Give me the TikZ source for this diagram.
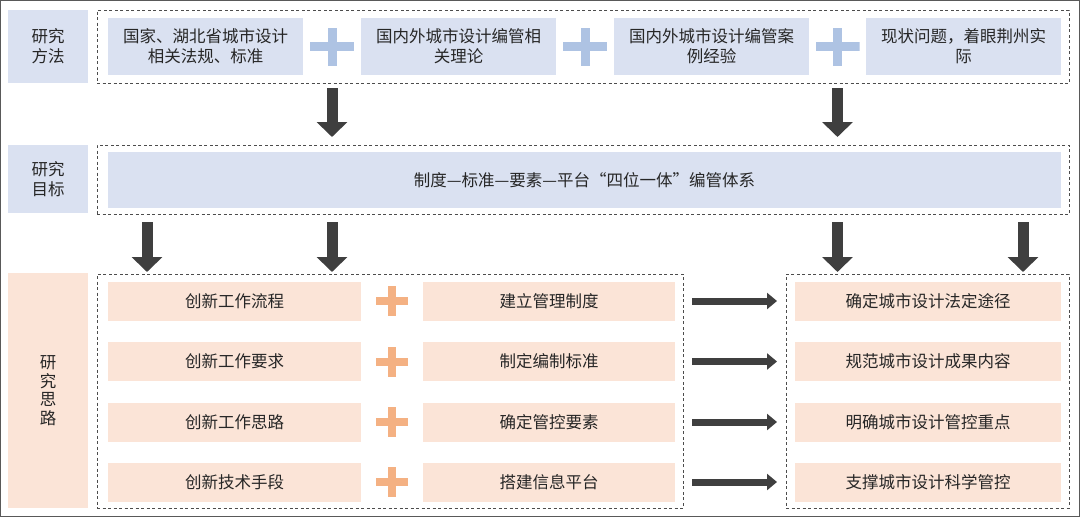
\documentclass[tikz,border=0pt]{standalone}
\usepackage{fontspec}
\newfontfamily\cjk{Noto Sans CJK SC}
\usetikzlibrary{arrows.meta}
\definecolor{boxblue}{HTML}{DAE1F1}
\definecolor{plusblue}{HTML}{AEC3E3}
\definecolor{boxorange}{HTML}{FBE4D7}
\definecolor{plusorange}{HTML}{F4B183}
\definecolor{arrowgray}{HTML}{3F3F3F}
\definecolor{txt}{HTML}{262626}

\begin{document}
\begin{tikzpicture}[x=1pt, y=-1pt,
  box/.style={inner sep=0pt, outer sep=0pt, align=center, text=txt, font={\cjk\fontsize{16.5pt}{20pt}\selectfont}},
  bbox/.style={box, fill=boxblue},
  obox/.style={box, fill=boxorange},
  label/.style={minimum width=80pt},
  topcell/.style={bbox, minimum width=195pt, minimum height=57pt},
  leftcell/.style={obox, minimum width=253pt, minimum height=39pt},
  midcell/.style={obox, minimum width=252pt, minimum height=39pt},
  rightcell/.style={obox, minimum width=266pt, minimum height=39pt},
  dashframe/.style={draw=black!70, line width=1pt, dash pattern=on 3pt off 2.5pt, inner sep=0pt, outer sep=0pt},
  plusb/.style={fill=white, minimum width=44pt, minimum height=38pt, inner sep=0pt,
    path picture={\fill[plusblue] ([yshift=-4.5pt]path picture bounding box.west) rectangle ([yshift=4.5pt]path picture bounding box.east);
      \fill[plusblue] ([xshift=-4.5pt]path picture bounding box.south) rectangle ([xshift=4.5pt]path picture bounding box.north);}},
  pluso/.style={fill=white, minimum width=32pt, minimum height=30pt, inner sep=0pt,
    path picture={\fill[plusorange] ([yshift=-4pt]path picture bounding box.west) rectangle ([yshift=4pt]path picture bounding box.east);
      \fill[plusorange] ([xshift=-4pt]path picture bounding box.south) rectangle ([xshift=4pt]path picture bounding box.north);}},
  bigarrow/.style={draw=arrowgray, line width=11pt, -{Triangle[width=30pt,length=15pt]}},
  sidearrow/.style={draw=arrowgray, line width=7pt, -{Triangle[width=16pt,length=10pt]}, shorten <=9pt, shorten >=9pt}]
\useasboundingbox (0,0) rectangle (1080,517);
\draw[draw=black!65, line width=1.2pt] (0.6,0.6) rectangle (1079.4,516.4);

\node[bbox, label, minimum height=73pt] (fangfa) at (48,46.5) {研究\\方法};
\node[dashframe, minimum width=972pt, minimum height=73pt] (fangfaFrame) at (583,46.5) {};
\node[topcell] (m1) at (205.5,46.5) {国家、湖北省城市设计\\相关法规、标准};
\node[plusb] (p1) at (332,46.5) {};
\node[topcell] (m2) at (458.5,46.5) {国内外城市设计编管相\\关理论};
\node[plusb] (p2) at (585,46.5) {};
\node[topcell] (m3) at (711.5,46.5) {国内外城市设计编管案\\例经验};
\node[plusb] (p3) at (837.5,46.5) {};
\node[topcell] (m4) at (963.5,46.5) {现状问题，着眼荆州实\\际};

\node[bbox, label, minimum height=68pt] (mubiao) at (48,179) {研究\\目标};
\node[dashframe, minimum width=972pt, minimum height=69pt] (mubiaoFrame) at (583,179.5) {};
\node[bbox, minimum width=953pt, minimum height=56pt] (tixi) at (584.5,180) {制度—标准—要素—平台“四位一体”编管体系};

\node[obox, label, minimum height=235pt, font={\cjk\fontsize{16.5pt}{18.5pt}\selectfont}] (silu) at (48,390.5) {研\\究\\思\\路};
\node[dashframe, minimum width=586pt, minimum height=234pt] (siluLeft) at (390,391) {};
\node[dashframe, minimum width=283pt, minimum height=234pt] (siluRight) at (927.5,391) {};

\node[leftcell] (c11) at (234.5,301) {创新工作流程};
\node[pluso] (q1) at (392,301) {};
\node[midcell] (c12) at (549,301) {建立管理制度};
\node[rightcell] (c13) at (928,301) {确定城市设计法定途径};
\node[leftcell] (c21) at (234.5,361.5) {创新工作要求};
\node[pluso] (q2) at (392,361.5) {};
\node[midcell] (c22) at (549,361.5) {制定编制标准};
\node[rightcell] (c23) at (928,361.5) {规范城市设计成果内容};
\node[leftcell] (c31) at (234.5,422) {创新工作思路};
\node[pluso] (q3) at (392,422) {};
\node[midcell] (c32) at (549,422) {确定管控要素};
\node[rightcell] (c33) at (928,422) {明确城市设计管控重点};
\node[leftcell] (c41) at (234.5,482) {创新技术手段};
\node[pluso] (q4) at (392,482) {};
\node[midcell] (c42) at (549,482) {搭建信息平台};
\node[rightcell] (c43) at (928,482) {支撑城市设计科学管控};

\coordinate (g1) at (147,214);
\coordinate (g4) at (1023,214);
\draw[bigarrow, shorten <=5pt, shorten >=8pt] (p1 |- fangfaFrame.south) -- (p1 |- mubiaoFrame.north);
\draw[bigarrow, shorten <=5pt, shorten >=8pt] (p3 |- fangfaFrame.south) -- (p3 |- mubiaoFrame.north);
\draw[bigarrow, shorten <=8pt, shorten >=2pt] (g1) -- (g1 |- siluLeft.north);
\draw[bigarrow, shorten <=8pt, shorten >=2pt] (p1 |- mubiaoFrame.south) -- (p1 |- siluLeft.north);
\draw[bigarrow, shorten <=8pt, shorten >=2pt] (p3 |- mubiaoFrame.south) -- (p3 |- siluRight.north);
\draw[bigarrow, shorten <=8pt, shorten >=2pt] (g4) -- (g4 |- siluRight.north);
\draw[sidearrow] (siluLeft.east |- c12) -- (siluRight.west |- c13);
\draw[sidearrow] (siluLeft.east |- c22) -- (siluRight.west |- c23);
\draw[sidearrow] (siluLeft.east |- c32) -- (siluRight.west |- c33);
\draw[sidearrow] (siluLeft.east |- c42) -- (siluRight.west |- c43);
\end{tikzpicture}
\end{document}
